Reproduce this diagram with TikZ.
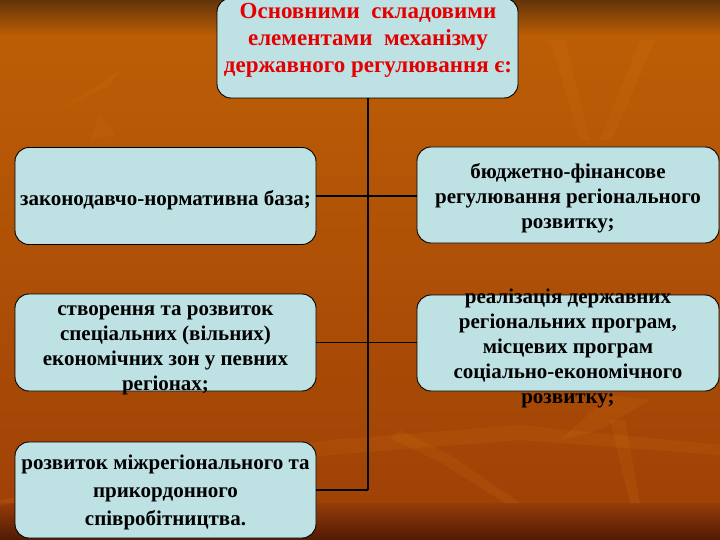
\documentclass[tikz,border=0pt]{standalone}
\usepackage{fontspec}
\setmainfont{Liberation Serif}
\definecolor{boxfill}{RGB}{190,225,228}
\definecolor{titlered}{RGB}{228,0,0}
\definecolor{bgtop}{RGB}{100,52,8}
\definecolor{bgA}{RGB}{188,94,6}
\definecolor{bgB}{RGB}{160,66,6}
\definecolor{bgC}{RGB}{150,60,8}
\definecolor{bgD}{RGB}{80,26,5}
\definecolor{leaf}{RGB}{215,120,20}
\begin{document}
\begin{tikzpicture}[x=1pt,y=-1pt,
  box/.style={draw=black, line width=0.9pt, fill=boxfill, rounded corners=14pt,
    minimum width=301pt, minimum height=97pt, inner sep=0pt},
  txt/.style={font=\bfseries\fontsize{21}{25}\selectfont, align=center, text=black, inner sep=0pt},
  title/.style={font=\bfseries\fontsize{23}{27}\selectfont, align=center, text=titlered, inner sep=0pt},
  conn/.style={line width=1.4pt, draw=black},
  leafshape/.style={fill=leaf, fill opacity=0.15, draw=none}]
\useasboundingbox (0,0) rectangle (720,540);
% background
\shade[top color=bgtop, bottom color=bgA] (0,0) rectangle (720,36);
\shade[top color=bgA, bottom color=bgB] (0,36) rectangle (720,503);
\shade[top color=bgC, bottom color=bgD] (0,503) rectangle (720,540);
% faint leaves
\fill[leafshape] (0,500) -- (140,470) -- (330,440) -- (520,425) -- (720,445) -- (720,455) -- (520,440) -- (330,455) -- (140,480) -- (0,505) -- cycle;
\fill[leafshape] (400,430) -- (450,455) -- (520,503) -- (505,503) -- (440,462) -- (390,438) -- cycle;
\fill[leafshape] (560,440) -- (610,395) -- (650,400) -- (600,430) -- cycle;
\fill[leafshape] (610,420) -- (630,503) -- (640,503) -- (625,420) -- cycle;
\fill[leafshape] (100,115) -- (115,135) -- (90,140) -- cycle;
\fill[leafshape] (550,40) -- (580,140) -- (590,140) -- (565,40) -- cycle;
\fill[leafshape] (640,40) -- (600,140) -- (612,140) -- (655,40) -- cycle;
\fill[leafshape] (60,110) -- (120,70) -- (110,85) -- cycle;
% boxes
\node[box] (top) at (367.5,48) [minimum height=100pt] {};
\node[box] (L1) at (165.5,196) {};
\node[box] (R1) at (568,195) [minimum height=96pt, minimum width=302pt] {};
\node[box] (L2) at (165.5,342.5) {};
\node[box] (R2) at (568,343) [minimum height=96pt, minimum width=302pt] {};
\node[box] (L3) at (165.5,490) [minimum height=96pt] {};
% connectors
\coordinate (jn) at (368,490);
\draw[conn] (top.south -| jn) -- (jn);
\draw[conn] (L1.east) -- (R1.west |- L1.east);
\draw[conn] (L2.east) -- (R2.west |- L2.east);
\draw[conn] (L3.east |- jn) -- (jn);
% texts
\node[title] (tt) at (368,40) {Основними\ \ складовими\\ елементами\ \ механізму\\ державного регулювання є:};
\node[txt] (t1) at (165.5,200) {законодавчо-нормативна база;};
\node[txt] (t2) at (568,198) {бюджетно-фінансове\\ регулювання регіонального\\ розвитку;};
\node[txt] (t3) at (165.5,350.5) {створення та розвиток\\ спеціальних (вільних)\\ економічних зон у певних\\ регіонах;};
\node[txt] (t4) at (568,348) {реалізація державних\\ регіональних програм,\\ місцевих програм\\ соціально-економічного\\ розвитку;};
\node[txt, font=\bfseries\fontsize{21}{28}\selectfont] (t5) at (165.5,492) {розвиток міжрегіонального та\\ прикордонного\\ співробітництва.};
\end{tikzpicture}
\end{document}
